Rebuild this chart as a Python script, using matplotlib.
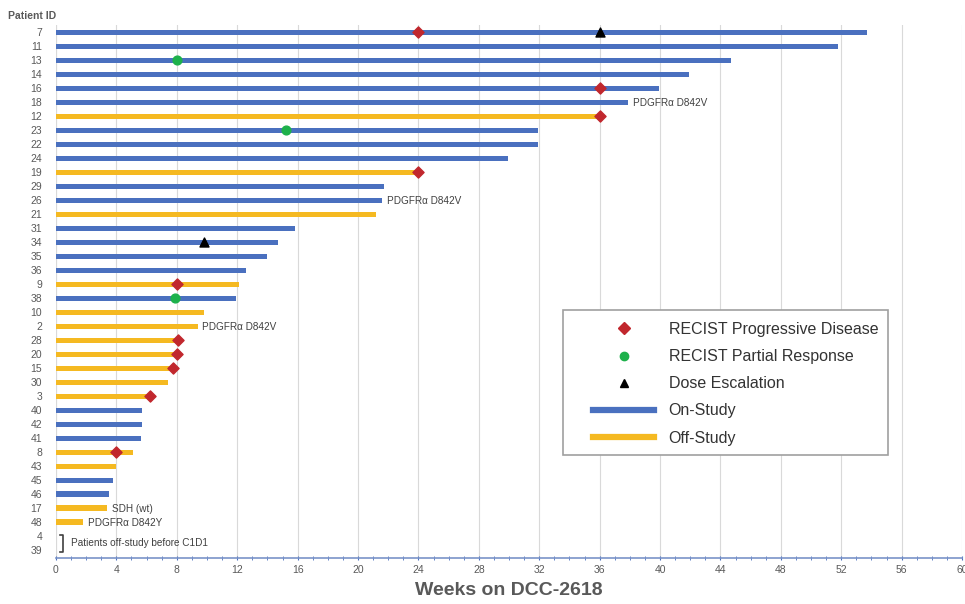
import matplotlib.pyplot as plt
from matplotlib.lines import Line2D
from matplotlib.patches import Rectangle
import numpy as np

# patients from top to bottom, with weeks on drug and study status
patients = ["7", "11", "13", "14", "16", "18", "12", "23", "22", "24", "19", "29", "26",
            "21", "31", "34", "35", "36", "9", "38", "10", "2", "28", "20", "15", "30",
            "3", "40", "42", "41", "8", "43", "45", "46", "17", "48", "4", "39"]
weeks = [53.7, 51.8, 44.7, 41.9, 39.9, 37.9, 36.0, 31.9, 31.9, 29.9, 24.1, 21.7, 21.6,
         21.2, 15.8, 14.7, 14.0, 12.6, 12.1, 11.9, 9.8, 9.4, 8.2, 8.1, 7.8, 7.4,
         6.2, 5.7, 5.7, 5.6, 5.1, 4.0, 3.8, 3.5, 3.4, 1.8, 0, 0]
on_study = ["7", "11", "13", "14", "16", "18", "23", "22", "24", "29", "26", "31", "34",
            "35", "36", "38", "40", "42", "41", "45", "46"]

# events: (patient, week)
progressive = [("7", 24), ("16", 36), ("12", 36), ("19", 24), ("9", 8), ("28", 8.1),
               ("20", 8.0), ("15", 7.75), ("3", 6.2), ("8", 4.0)]
partial = [("13", 8), ("23", 15.2), ("38", 7.9)]
escalation = [("7", 36), ("34", 9.8)]

# mutation notes next to bars
notes = [("18", "PDGFRα D842V"), ("26", "PDGFRα D842V"), ("2", "PDGFRα D842V"),
         ("17", "SDH (wt)"), ("48", "PDGFRα D842Y")]

BLUE = "#4A70BF"
GOLD = "#F5B921"
RED = "#C1272D"
GREEN = "#1DB14B"

plt.rcParams['font.family'] = ['Liberation Sans', 'DejaVu Sans']

fig = plt.figure(figsize=(9.65, 6.04), dpi=100)
ax = fig.add_axes([0.058, 0.076, 0.939, 0.883])

row = {p: i for i, p in enumerate(patients)}
y = np.arange(len(patients))
colors = [BLUE if p in on_study else GOLD for p in patients]
ax.barh(y, weeks, height=0.38, color=colors, edgecolor="none", zorder=2)

ax.scatter([w for p, w in progressive], [row[p] for p, w in progressive],
           marker="D", s=32, color=RED, zorder=4)
ax.scatter([w for p, w in partial], [row[p] for p, w in partial],
           marker="o", s=40, color=GREEN, zorder=4)
ax.scatter([w for p, w in escalation], [row[p] for p, w in escalation],
           marker="^", s=42, color="black", zorder=4)

for p, txt in notes:
    ax.text(weeks[row[p]] + 0.3, row[p] + 0.05, txt, fontsize=7.2, color="#404040",
            va="center", ha="left", zorder=5)

# bracket for the two patients that never started dosing
yb = (row["4"] + row["39"]) / 2
ax.plot([0.25, 0.45, 0.45, 0.25],
        [row["4"] - 0.05, row["4"] - 0.05, row["39"] + 0.1, row["39"] + 0.1],
        color="#404040", lw=1.2, zorder=5)
ax.text(1.0, yb, "Patients off-study before C1D1", fontsize=7.2, color="#404040",
        va="center", ha="left")

ax.set_xlim(0, 60)
ax.set_ylim(37.57, -0.55)
ax.set_yticks(y)
ax.set_yticklabels(patients, fontsize=7.5, color="#595959")
ax.set_xticks(np.arange(0, 61, 4))
ax.set_xticks(np.arange(0, 61, 1), minor=True)
ax.tick_params(axis="x", labelsize=7.5, labelcolor="#595959", color="#4A70BF",
               direction="inout", length=3, which="both")
ax.tick_params(axis="y", length=0, pad=10)
ax.grid(axis="x", color="#D9D9D9", lw=0.8, zorder=0)
for s in ["top", "right", "left"]:
    ax.spines[s].set_visible(False)
ax.spines["bottom"].set_color("#7A93C8")
ax.spines["bottom"].set_linewidth(1.2)
ax.axvline(0, color="#D9D9D9", lw=0.8, zorder=1)

ax.set_xlabel("Weeks on DCC-2618", fontsize=14, fontweight="bold", color="#595959",
              labelpad=5)
fig.text(0.008, 0.973, "Patient ID", fontsize=7.5, fontweight="bold", color="#595959",
         ha="left", va="center")

handles = [
    Line2D([], [], ls="none", marker="D", ms=6, color=RED),
    Line2D([], [], ls="none", marker="o", ms=6, color=GREEN),
    Line2D([], [], ls="none", marker="^", ms=6, color="black"),
    Line2D([], [], color=BLUE, lw=4.5),
    Line2D([], [], color=GOLD, lw=4.5),
]
labels = ["RECIST Progressive Disease", "RECIST Partial Response", "Dose Escalation",
          "On-Study", "Off-Study"]
leg = fig.legend(handles, labels, loc="upper left", bbox_to_anchor=(593 / 965, 1 - 322 / 604),
                 fontsize=11.5, frameon=False, handlelength=3.85, labelspacing=0.76,
                 borderpad=0, handletextpad=0.88, borderaxespad=0)
for t in leg.get_texts():
    t.set_color("#333333")

# legend frame
fig.add_artist(Rectangle((563 / 965, 1 - 455 / 604), 325 / 965, 145 / 604,
                         transform=fig.transFigure, fill=True, fc="white",
                         ec="#A0A0A0", lw=1.2, zorder=2.5))
leg.set_zorder(3)

fig.savefig("out.png", dpi=100)
